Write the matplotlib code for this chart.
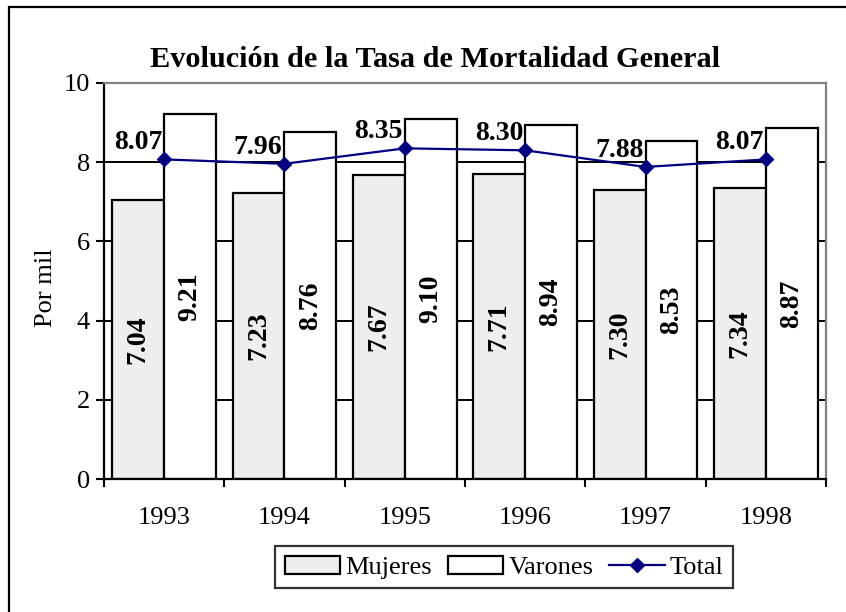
import numpy as np
import matplotlib
matplotlib.use("Agg")
import matplotlib.pyplot as plt
from matplotlib.patches import Rectangle

# Datos
years = ["1993", "1994", "1995", "1996", "1997", "1998"]
mujeres = [7.04, 7.23, 7.67, 7.71, 7.30, 7.34]
varones = [9.21, 8.76, 9.10, 8.94, 8.53, 8.87]
total = [8.07, 7.96, 8.35, 8.30, 7.88, 8.07]

plt.rcParams['font.family'] = ['Liberation Serif', 'DejaVu Serif']

fig = plt.figure(figsize=(8.46, 6.12), dpi=100)
ax = fig.add_axes([0.1229, 0.2173, 0.8535, 0.6471])

x = np.arange(len(years))
w = 0.43

# rejilla
for v in [2, 4, 6, 8]:
    ax.axhline(v, color='black', lw=1.4, zorder=1)

bm = ax.bar(x - w, mujeres, w, align='edge', facecolor='#eeeeee',
            edgecolor='black', lw=1.6, zorder=2, label='Mujeres')
bv = ax.bar(x, varones, w, align='edge', facecolor='white',
            edgecolor='black', lw=1.6, zorder=2, label='Varones')
ln, = ax.plot(x, total, color='#000080', lw=1.6, marker='D', markersize=7,
              zorder=4, label='Total')

for xi, m, v, t in zip(x, mujeres, varones, total):
    ax.text(xi - w / 2, m / 2, f"{m:.2f}", rotation=90, ha='center', va='center',
            fontsize=20, fontweight='bold', zorder=5)
    ax.text(xi + w / 2, v / 2, f"{v:.2f}", rotation=90, ha='center', va='center',
            fontsize=20, fontweight='bold', zorder=5)
    ax.annotate(f"{t:.2f}", (xi, t), xytext=(-1.5, 3), textcoords='offset points',
                ha='right', va='bottom', fontsize=20, fontweight='bold', zorder=5)

ax.set_xlim(-0.5, len(years) - 0.5)
ax.set_ylim(0, 10)
ax.set_yticks([0, 2, 4, 6, 8, 10])
ax.tick_params(axis='y', labelsize=19, direction='out', length=6, width=1.5, pad=4)
ax.set_xticks(np.arange(len(years) + 1) - 0.5)
ax.set_xticklabels([])
ax.set_xticks(x, minor=True)
ax.set_xticklabels(years, minor=True)
ax.tick_params(axis='x', which='major', direction='out', length=6, width=1.5)
ax.tick_params(axis='x', which='minor', length=0, labelsize=19, pad=20)

ax.spines['left'].set_linewidth(1.6)
ax.spines['bottom'].set_linewidth(1.6)
ax.spines['top'].set_color('#808080')
ax.spines['right'].set_color('#808080')
ax.spines['top'].set_linewidth(1.6)
ax.spines['right'].set_linewidth(1.6)

fig.text(0.054, 0.53, "Por mil", rotation=90, ha='center', va='center', fontsize=19)
fig.text(0.514, 0.903, "Evolución de la Tasa de Mortalidad General", ha='center',
         va='center', fontsize=21.8, fontweight='bold')

leg = fig.legend(handles=[bm, bv, ln], loc='center', bbox_to_anchor=(0.596, 0.073),
                 ncol=3, fontsize=19, frameon=True, fancybox=False,
                 handlelength=2.1, handletextpad=0.2, columnspacing=0.6,
                 borderpad=0.35, borderaxespad=0)
leg.get_frame().set_edgecolor('black')
leg.get_frame().set_linewidth(1.6)

# marco exterior
fig.patches.append(Rectangle((9 / 846, -0.1), 1.2, 1 - 7 / 612 + 0.1,
                             transform=fig.transFigure, fill=False,
                             edgecolor='black', lw=1.6))

fig.savefig("out.png", dpi=100)
